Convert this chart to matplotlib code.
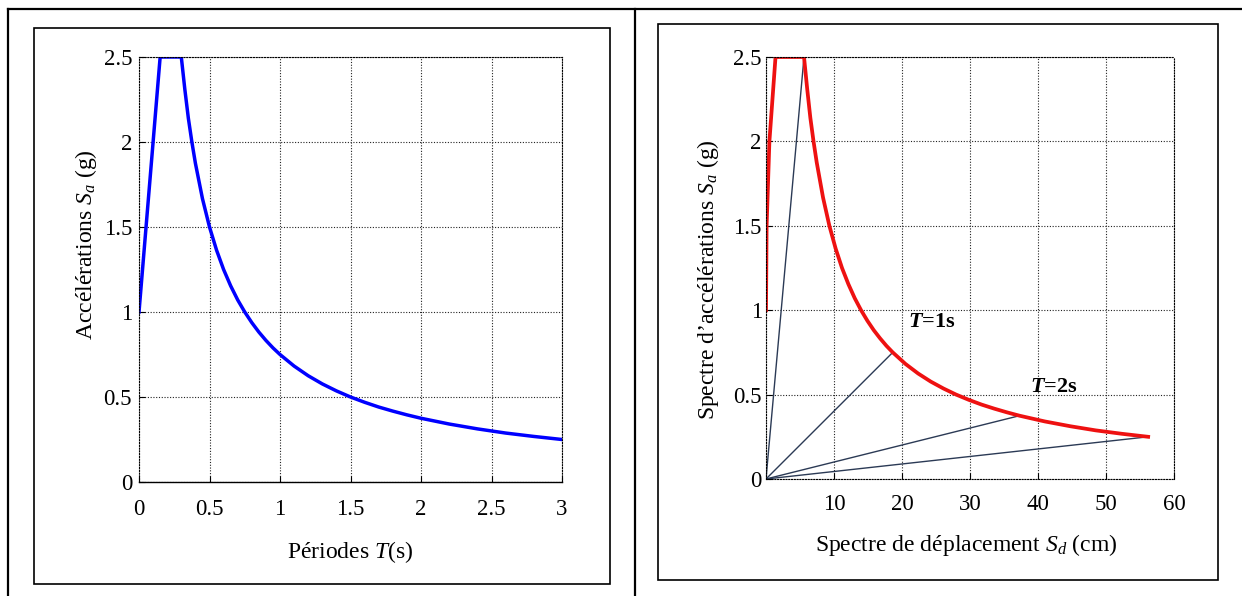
import matplotlib
matplotlib.use("Agg")
import matplotlib.pyplot as plt
from matplotlib.patches import Rectangle
from matplotlib.lines import Line2D

plt.rcParams['font.family'] = ['Liberation Serif', 'DejaVu Serif']
plt.rcParams['mathtext.fontset'] = 'custom'
plt.rcParams['mathtext.rm'] = 'Liberation Serif'
plt.rcParams['mathtext.it'] = 'Liberation Serif:italic'
plt.rcParams['mathtext.bf'] = 'Liberation Serif:bold'
plt.rcParams['mathtext.bfit'] = 'Liberation Serif:italic:bold'

# spectre d'accelerations
periods = [0, 0.05, 0.10, 0.15, 0.30, 0.325, 0.35, 0.375, 0.40, 0.45, 0.50, 0.55, 0.60, 0.65,
           0.70, 0.75, 0.80, 0.85, 0.90, 0.95, 1.00, 1.10, 1.20, 1.30, 1.40, 1.50, 1.60,
           1.70, 1.80, 1.90, 2.00, 2.20, 2.40, 2.60, 2.80, 3.00]
sa = [1.0, 1.5, 2.0, 2.5, 2.5, 2.31, 2.14, 2.0, 1.875, 1.667, 1.5, 1.364, 1.25, 1.154,
      1.071, 1.0, 0.9375, 0.882, 0.833, 0.789, 0.75, 0.682, 0.625, 0.577, 0.536, 0.5, 0.469,
      0.441, 0.417, 0.395, 0.375, 0.341, 0.3125, 0.288, 0.268, 0.25]
# deplacements (cm) for the same points (right panel)
sd = [0, 0.09, 0.50, 1.40, 5.59, 6.06, 6.52, 6.99, 7.46, 8.39, 9.32, 10.25, 11.18, 12.12,
      13.05, 13.98, 14.91, 15.84, 16.78, 17.71, 18.64, 20.5, 22.37, 24.23, 26.1, 27.96, 29.82,
      31.69, 33.55, 35.42, 37.28, 41.0, 44.76, 48.5, 52.3, 56.2]

# rays from origin to the curve (Sd, Sa)
ray_sd = [5.59, 18.64, 37.28, 56.2]
ray_sa = [2.5, 0.75, 0.375, 0.25]

left_xticks = [0, 0.5, 1, 1.5, 2, 2.5, 3]
left_xticklabels = ['0', '0.5', '1', '1.5', '2', '2.5', '3']
right_xticks = [0, 10, 20, 30, 40, 50, 60]
right_xticklabels = ['', '10', '20', '30', '40', '50', '60']
yticks = [0, 0.5, 1, 1.5, 2, 2.5]
yticklabels = ['0', '0.5', '1', '1.5', '2', '2.5']

W, H = 1242, 596
fig = plt.figure(figsize=(W / 100, H / 100), dpi=100)


def fx(x):
    return x / W


def fy(y):
    return 1 - y / H


# table frame
fig.add_artist(Line2D([fx(8), 1], [fy(9), fy(9)], color='black', lw=1.6))
fig.add_artist(Line2D([fx(8), fx(8)], [fy(9), 0], color='black', lw=1.6))
fig.add_artist(Line2D([fx(635), fx(635)], [fy(9), 0], color='black', lw=1.6))
# inner boxes
fig.add_artist(Rectangle((fx(34), fy(584)), fx(610 - 34), (584 - 28) / H, fill=False,
                         lw=1.2, edgecolor='black', transform=fig.transFigure))
fig.add_artist(Rectangle((fx(658), fy(580)), fx(1218 - 658), (580 - 24) / H, fill=False,
                         lw=1.2, edgecolor='black', transform=fig.transFigure))

grid_style = dict(color='#222222', linestyle=(0, (1, 1.5)), linewidth=0.8)

ax1 = fig.add_axes([fx(139), fy(482), fx(562 - 139), (482 - 57) / H])
ax1.plot(periods, sa, color='#0000ff', lw=2.5, solid_joinstyle='round')
ax1.set_xlim(0, 3)
ax1.set_ylim(0, 2.5)
ax1.set_xticks(left_xticks)
ax1.set_xticklabels(left_xticklabels)
ax1.set_yticks(yticks)
ax1.set_yticklabels(yticklabels)
ax1.grid(True, **grid_style)
ax1.tick_params(direction='in', length=4, labelsize=16.5)
ax1.tick_params(axis='x', pad=12)
ax1.tick_params(axis='y', pad=5)
for s in ['top', 'right', 'left']:
    ax1.spines[s].set_linestyle((0, (1, 1.5)))
    ax1.spines[s].set_linewidth(0.8)
ax1.spines['bottom'].set_linewidth(1.0)
fig.text(fx(350), fy(552), r'Périodes $T$(s)', ha='center', va='center', fontsize=17)
fig.text(fx(86), fy(245), r'Accélérations $S_a$ (g)', ha='center', va='center',
         rotation=90, fontsize=17)

ax2 = fig.add_axes([fx(766), fy(479), fx(1174 - 766), (479 - 57) / H])
for x, y in zip(ray_sd, ray_sa):
    ax2.plot([0, x], [0, y], color='#2b3a55', lw=1.0)
ax2.plot(sd, sa, color='#ee1111', lw=2.7, solid_joinstyle='round')
ax2.set_xlim(0, 60)
ax2.set_ylim(0, 2.5)
ax2.set_xticks(right_xticks)
ax2.set_xticklabels(right_xticklabels)
ax2.set_yticks(yticks)
ax2.set_yticklabels(yticklabels)
ax2.grid(True, **grid_style)
ax2.tick_params(direction='in', length=4, labelsize=16.5)
ax2.tick_params(axis='x', pad=11)
ax2.tick_params(axis='y', pad=3)
for s in ax2.spines.values():
    s.set_linestyle((0, (1, 1.5)))
    s.set_linewidth(0.8)
ax2.text(20.9, 0.93, r'$\mathbfit{T}$=1s', fontsize=16, fontweight='bold', va='center')
ax2.text(38.8, 0.545, r'$\mathbfit{T}$=2s', fontsize=16, fontweight='bold', va='center')
fig.text(fx(966), fy(545), r'Spectre de déplacement $S_d$ (cm)', ha='center', va='center',
         fontsize=17)
fig.text(fx(708), fy(280), r"Spectre d’accélérations $S_a$ (g)", ha='center', va='center',
         rotation=90, fontsize=17)

fig.savefig('out.png', dpi=100)
